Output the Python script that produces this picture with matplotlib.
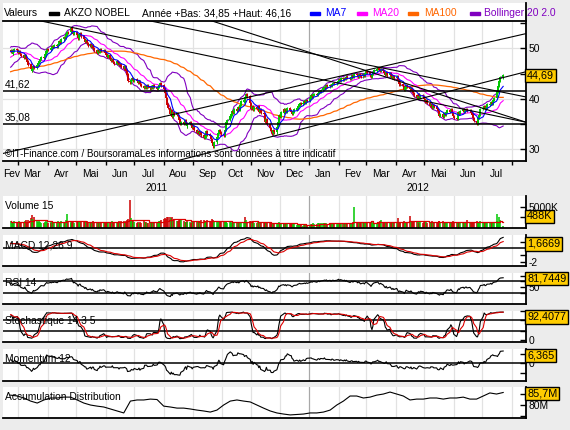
import numpy as np
import pandas as pd
import matplotlib
matplotlib.use('Agg')
import matplotlib.pyplot as plt
import matplotlib.dates as mdates
from matplotlib.patches import Rectangle

plt.rcParams['font.family'] = ['Liberation Sans', 'DejaVu Sans']
plt.rcParams['font.size'] = 7.4

# ---------------- data ----------------
# daily closes before the visible window (warm-up of MA100 / MACD), 27 Sep 2010 -> 18 Feb 2011
close_before = [
    [42.1, 42.4, 41.9, 42.3, 42.7], [42.5, 42.9, 43.2, 42.8, 43.1], [43.4, 43.0, 43.3, 43.7, 43.5],
    [43.2, 42.8, 43.1, 43.4, 43.0], [43.3, 42.9, 42.6, 43.0, 43.3], [43.6, 43.9, 44.3, 44.6, 44.3],
    [44.0, 43.7, 44.1, 43.5, 43.2], [42.9, 42.5, 42.8, 43.2, 43.5], [43.3, 42.9, 43.2, 42.7, 43.0],
    [42.6, 43.1, 43.7, 44.3, 44.6], [45.6, 45.2, 45.5, 45.9, 45.7], [46.0, 45.8, 46.3, 46.1, 46.4],
    [46.6, 46.3, 46.5, 46.2, 46.4], [46.3, 46.6, 46.2, 46.5, 46.7], [47.0, 46.6, 46.2, 45.9, 46.1],
    [45.7, 46.2, 46.8, 46.5, 47.0], [47.3, 46.9, 46.5, 46.0, 46.4], [46.7, 47.0, 46.6, 47.2, 46.8],
    [47.1, 47.6, 47.9, 47.5, 48.0], [48.3, 48.7, 48.4, 48.9, 49.2], [49.0, 49.4, 49.7, 49.3, 49.6],
]
# visible daily closes, one row per week, from Monday 21 Feb 2011
close_2011 = [
    [49.3, 49.7, 49.0, 49.5, 49.8], [49.6, 49.1, 49.4, 48.9, 48.6], [48.2, 48.7, 47.9, 47.4, 46.8],
    [46.0, 45.6, 45.9, 46.5, 46.2], [46.7, 47.1, 47.5, 47.9, 48.3], [48.2, 48.8, 49.4, 49.9, 49.7],
    [50.1, 50.0, 50.4, 50.3, 50.6], [50.4, 50.9, 51.4, 51.2, 51.8], [52.2, 52.1, 52.8, 53.3, 53.2],
    [53.6, 54.0, 53.5, 52.9, 53.2], [52.6, 52.0, 52.8, 53.0, 52.4], [51.9, 51.3, 51.7, 51.0, 50.6],
    [50.9, 50.3, 50.6, 50.0, 49.6], [49.2, 49.6, 49.3, 49.8, 49.5], [49.7, 49.2, 48.8, 48.3, 48.6],
    [48.0, 47.6, 47.9, 47.3, 47.0], [47.5, 47.2, 46.7, 46.9, 46.4], [46.0, 46.5, 45.6, 44.8, 43.6],
    [43.3, 43.8, 44.1, 43.7, 44.0], [43.6, 43.2, 43.5, 42.9, 42.6], [42.2, 42.6, 42.3, 42.8, 42.4],
    [42.1, 42.5, 42.2, 42.7, 42.4], [42.0, 42.4, 42.8, 43.1, 42.7], [42.0, 41.2, 40.1, 38.9, 38.2],
    [37.0, 37.8, 36.4, 37.3, 36.9], [37.2, 36.6, 35.9, 35.0, 35.4], [35.1, 35.7, 35.2, 34.6, 35.0],
    [35.3, 34.8, 34.3, 34.5, 33.9], [33.3, 33.7, 33.1, 33.5, 32.8], [32.3, 32.6, 33.2, 33.6, 33.0],
    [32.6, 32.0, 31.2, 30.6, 31.4], [32.5, 33.3, 33.9, 33.4, 33.0], [32.8, 33.9, 34.6, 35.3, 35.8],
    [36.5, 36.9, 37.6, 37.2, 38.0], [37.6, 38.4, 37.9, 38.8, 39.5], [39.8, 39.3, 40.4, 40.9, 40.5],
    [39.2, 38.0, 38.6, 37.8, 38.4], [38.0, 38.6, 37.5, 37.9, 37.2], [37.0, 36.2, 35.5, 35.9, 35.0],
    [34.2, 33.6, 33.2, 33.8, 33.4], [34.5, 35.4, 36.8, 36.5, 37.3], [37.9, 37.5, 38.0, 37.4, 38.1],
    [37.8, 37.4, 37.0, 37.5, 37.9], [38.1, 38.6, 38.9, 39.2, 39.0], [39.2, 39.5, 39.3, 39.8, 39.6],
]
close_2012 = [
    [40.2, 40.7, 40.5, 40.9, 41.0], [40.8, 41.2, 41.6, 41.4, 41.8], [42.1, 42.4, 42.3, 42.7, 42.5],
    [42.8, 42.6, 43.0, 43.2, 43.1], [43.3, 43.6, 43.9, 43.7, 44.1], [43.9, 44.2, 44.0, 44.4, 44.2],
    [44.0, 44.3, 44.6, 44.4, 44.8], [44.7, 44.5, 44.9, 44.7, 44.5], [44.8, 44.6, 45.1, 45.4, 45.2],
    [44.7, 44.4, 44.9, 45.3, 45.6], [45.9, 46.1, 45.8, 45.6, 45.9], [45.5, 45.1, 44.8, 45.2, 44.7],
    [45.0, 44.6, 44.2, 44.5, 44.1], [44.4, 43.8, 42.9, 43.2, 43.0], [42.6, 41.8, 42.3, 42.8, 42.4],
    [41.9, 42.2, 41.5, 41.1, 40.7], [40.2, 40.6, 40.9, 40.4, 40.8], [40.5, 40.0, 39.4, 39.8, 39.2],
    [38.6, 38.9, 38.3, 38.7, 38.5], [38.0, 37.6, 37.1, 36.7, 37.0], [36.5, 37.2, 36.8, 37.4, 37.8],
    [37.5, 37.9, 37.2, 36.6, 36.2], [36.0, 36.7, 37.3, 37.0, 37.6], [37.9, 37.4, 37.8, 38.0, 37.6],
    [37.8, 37.3, 36.9, 36.2, 35.6], [35.1, 35.4, 36.2, 36.8, 38.0], [38.2, 38.6, 38.1, 38.33, 38.9],
    [39.0, 39.4, 39.1, 39.8, 40.2], [40.6, 41.5, 42.6, 43.6, 44.3], [44.69],
]
# daily volume in millions of shares, same weeks
volume_2011 = [
    [1.6, 1.4, 1.5, 1.3, 1.7], [1.5, 1.4, 1.6, 1.3, 1.5], [1.4, 1.6, 1.8, 1.5, 2.0], [2.4, 3.1, 2.1, 1.8, 2.6],
    [1.6, 1.4, 1.7, 1.5, 1.3], [1.2, 1.5, 1.6, 1.4, 1.3], [1.4, 1.2, 1.5, 1.3, 1.4], [1.3, 1.6, 1.4, 1.5, 1.7],
    [1.5, 1.4, 1.8, 3.3, 1.6], [1.2, 1.5, 1.4, 1.6, 1.3], [1.7, 1.5, 1.4, 1.6, 1.5], [1.4, 1.6, 1.5, 1.7, 1.3],
    [1.5, 1.4, 1.3, 1.6, 1.4], [1.3, 1.2, 1.4, 1.3, 1.2], [1.1, 1.4, 1.5, 1.3, 1.4], [1.5, 1.4, 1.6, 1.3, 1.5],
    [1.4, 1.3, 1.6, 1.5, 1.7], [1.6, 1.4, 1.7, 1.9, 2.2], [6.7, 2.3, 1.8, 1.6, 1.5], [1.3, 1.4, 1.2, 1.5, 1.3],
    [1.6, 1.5, 1.4, 1.3, 1.2], [1.4, 1.3, 1.5, 1.4, 1.2], [1.3, 1.5, 1.7, 1.6, 1.9], [2.1, 2.4, 2.2, 2.6, 2.5],
    [2.7, 2.3, 2.5, 2.0, 1.9], [1.7, 1.6, 1.8, 2.2, 1.9], [1.6, 1.5, 1.4, 1.6, 1.5], [1.4, 1.3, 1.5, 1.4, 1.6],
    [1.7, 1.5, 1.4, 1.6, 1.8], [1.9, 1.7, 1.6, 1.5, 2.0], [1.5, 1.6, 2.1, 1.8, 1.7], [1.6, 1.5, 1.7, 1.4, 1.5],
    [1.6, 1.7, 1.5, 1.4, 1.3], [1.4, 1.5, 1.3, 1.4, 1.2], [1.3, 1.4, 1.5, 1.3, 1.4], [1.5, 2.6, 1.6, 1.8, 1.4],
    [1.6, 1.7, 1.5, 1.4, 1.3], [1.3, 1.4, 1.2, 1.3, 1.2], [1.2, 1.3, 1.4, 1.2, 1.3], [1.1, 1.2, 1.0, 0.9, 1.0],
    [1.1, 1.2, 1.4, 1.2, 1.1], [1.0, 1.1, 1.0, 1.2, 1.0], [0.9, 1.0, 1.1, 0.9, 1.2], [0.8, 0.9, 0.8, 0.7, 0.6],
    [0.5, 0.6, 0.7, 0.6, 0.5],
]
volume_2012 = [
    [0.8, 0.9, 1.0, 1.1, 0.9], [1.0, 1.1, 1.2, 1.0, 1.1], [1.2, 1.3, 1.1, 1.2, 1.0], [1.1, 1.0, 1.2, 1.1, 1.0],
    [1.1, 1.2, 1.3, 1.1, 1.2], [1.2, 1.1, 1.3, 1.2, 1.1], [1.3, 1.2, 1.1, 1.4, 5.1], [1.4, 1.2, 1.3, 1.1, 1.2],
    [1.3, 1.4, 1.5, 1.2, 1.3], [1.4, 1.3, 1.2, 1.4, 1.3], [1.3, 1.5, 1.4, 1.6, 2.0], [1.4, 1.3, 1.5, 1.4, 1.2],
    [1.3, 1.4, 1.2, 1.3, 1.5], [1.4, 2.4, 1.5, 1.3, 1.2], [1.5, 1.6, 1.4, 1.3, 1.5], [2.9, 1.7, 1.5, 1.4, 1.6],
    [1.7, 1.5, 1.4, 1.3, 1.5], [1.3, 1.6, 1.5, 1.4, 1.3], [1.5, 1.4, 1.6, 1.3, 1.4], [1.5, 1.4, 1.6, 1.7, 1.5],
    [1.6, 1.4, 1.3, 1.2, 1.3], [1.2, 1.4, 1.5, 1.6, 1.4], [1.3, 1.5, 1.4, 1.3, 1.2], [1.4, 1.3, 1.2, 1.5, 1.8],
    [1.3, 1.2, 1.4, 1.5, 1.3], [1.6, 1.4, 1.3, 1.5, 1.7], [1.3, 1.2, 1.1, 1.3, 1.2], [1.1, 1.3, 1.2, 1.4, 1.3],
    [3.3, 1.6, 1.5, 2.6, 1.9], [0.49],
]
# accumulation / distribution (millions), read once per week (Mondays)
ad_weekly = [
    84.5, 84.1, 83.2, 81.8, 80.9, 82.3, 83.2, 83.2, 83.6, 83.6, 82.3, 80.9, 80.0, 79.5, 79.1,
    78.2, 77.3, 76.4, 81.8, 82.3, 82.3, 82.7, 82.5, 79.5, 79.1, 78.6, 78.6, 78.2, 77.7, 77.3,
    76.8, 77.7, 80.0, 81.8, 82.3, 81.8, 81.4, 80.0, 78.6, 77.3, 76.4, 75.9, 75.5, 75.7, 75.9,
    76.4, 76.4, 76.8, 77.7, 80.0, 81.8, 84.1, 84.1, 83.2, 83.6, 84.5, 85.0, 85.9, 85.0, 84.1,
    82.3, 82.7, 82.7, 83.2, 83.2, 82.7, 83.2, 83.2, 83.6, 82.7, 82.7, 84.1, 85.5, 85.0, 85.7,
]
levels = [41.62, 35.08]
level_labels = ['41,62', '35,08']
# trend lines, two anchor points each (date, price)
trend_lines = [
    (('2011-03-21', 55.6), ('2012-08-16', 35.4)),
    (('2011-07-14', 55.6), ('2012-08-16', 40.4)),
    (('2012-03-15', 44.75), ('2012-08-16', 35.4)),
    (('2012-03-15', 46.3), ('2012-08-15', 52.9)),
    (('2011-08-22', 28.1), ('2012-08-15', 45.35)),
]
month_names = ['Fev', 'Mar', 'Avr', 'Mai', 'Jun', 'Jul', 'Aou', 'Sep', 'Oct', 'Nov', 'Dec',
               'Jan', 'Fev', 'Mar', 'Avr', 'Mai', 'Jun', 'Jul']
last_values = ['44,69', '488K', '1,6669', '81,7449', '92,4077', '6,365', '85,7M']

# ---------------- preparation ----------------
flat = lambda rows: [v for r in rows for v in r]
c_pre = flat(close_before)
c_vis = flat(close_2011) + flat(close_2012)
vol = np.array(flat(volume_2011) + flat(volume_2012))
n_pre = len(c_pre)

dates = pd.bdate_range('2011-02-21', periods=len(c_vis))
x = mdates.date2num(dates)

c = pd.Series(c_pre + c_vis)
o = c.shift(1).fillna(c.iloc[0])
hi = np.maximum(o, c) + 0.25
lo = np.minimum(o, c) - 0.25

ma7 = c.rolling(7).mean()
ma20 = c.rolling(20).mean()
ma100 = c.rolling(100).mean()
sd20 = c.rolling(20).std(ddof=0)
bb_up, bb_lo = ma20 + 2 * sd20, ma20 - 2 * sd20
macd = c.ewm(span=12, adjust=False).mean() - c.ewm(span=26, adjust=False).mean()
macd_sig = macd.ewm(span=9, adjust=False).mean()
dlt = c.diff()
gain = dlt.clip(lower=0).ewm(alpha=1 / 14, adjust=False).mean()
loss = (-dlt.clip(upper=0)).ewm(alpha=1 / 14, adjust=False).mean()
rsi = 100 - 100 / (1 + gain / loss)
ll, hh = lo.rolling(14).min(), hi.rolling(14).max()
stoch_k = (100 * (c - ll) / (hh - ll)).rolling(3).mean()
stoch_d = stoch_k.rolling(5).mean()
mom = c - c.shift(12)

V = lambda s: np.asarray(s)[n_pre:]
ov, cv, hv, lv = V(o), V(c), V(hi), V(lo)
up = cv >= ov
GREEN, RED = '#00c800', '#cc0000'
col = np.where(up, GREEN, RED)

vol_ma15 = pd.Series(vol).rolling(15, min_periods=1).mean()
vcol = np.where(np.r_[True, np.diff(cv) >= 0], GREEN, RED)

# ---------------- figure ----------------
W, H = 570, 430


def box(x0, y0, x1, y1):
    return [x0 / W, 1 - y1 / H, (x1 - x0) / W, (y1 - y0) / H]


fig = plt.figure(figsize=(5.7, 4.3), dpi=100)
fig.patch.set_facecolor('#ececec')

xl = mdates.date2num(pd.Timestamp('2011-02-13'))
xr = mdates.date2num(pd.Timestamp('2012-08-16'))
grid_months = pd.date_range('2011-03-01', '2012-08-01', freq='MS')
jan12 = pd.Timestamp('2012-01-01')


def style(a):
    a.set_facecolor('white')
    for s in ('top', 'left'):
        a.spines[s].set_visible(False)
    for s in ('right', 'bottom'):
        a.spines[s].set_linewidth(1.3)
    a.yaxis.tick_right()
    a.tick_params(axis='y', direction='in', length=4, width=1, pad=2, labelsize=7.4)
    a.set_xlim(xl, xr)
    for m in grid_months:
        a.axvline(mdates.date2num(m), color='#a8a8a8' if m == jan12 else '#e2e2e2', lw=0.9, zorder=0)


def value_box(a, yfrac, text, trans=None):
    a.text(1.002, yfrac, text, transform=trans or a.transAxes, ha='left', va='center', fontsize=7.8,
           bbox=dict(boxstyle='square,pad=0.15', fc='#ffcc00', ec='black', lw=1), zorder=10, clip_on=False)


# header
hax = fig.add_axes(box(3, 3, 526, 20.5))
hax.set_facecolor('white')
for s in ('top', 'left', 'bottom'):
    hax.spines[s].set_visible(False)
hax.spines['right'].set_linewidth(1.3)
hax.set_xticks([])
hax.set_yticks([])
hax.set_xlim(3, 526)
hax.set_ylim(20.5, 3)
header = [(4, 'Valeurs', 'black', None), (64, 'AKZO NOBEL', 'black', 49),
          (142, 'Année +Bas: 34,85 +Haut: 46,16', 'black', None),
          (325, 'MA7', '#0000ff', 310), (372, 'MA20', '#ff00ff', 357),
          (424, 'MA100', '#ff6600', 408), (484, 'Bollinger 20 2.0', '#8000c0', 470)]
for tx, txt, color, rx in header:
    hax.text(tx, 13.2, txt, color=color, va='center', ha='left', fontsize=7.4, clip_on=False)
    if rx is not None:
        hax.add_patch(Rectangle((rx, 12.3), 9.5, 3, color=color))

# main price chart
ax = fig.add_axes(box(3, 20.5, 526, 161))
style(ax)
ax.spines['top'].set_visible(True)
ax.spines['top'].set_linewidth(1.3)
ax.set_ylim(27.72, 55.54)
ax.set_yticks([30, 35, 40, 45, 50, 55])
ax.set_yticklabels(['30', '', '40', '', '50', ''])
for v in (30, 40, 50):
    ax.axhline(v, color='#e2e2e2', lw=0.9, zorder=0)

ax.plot(x, V(bb_up), color='#8000c0', lw=0.8, zorder=2)
ax.plot(x, V(bb_lo), color='#8000c0', lw=0.8, zorder=2)
ax.plot(x, V(ma100), color='#ff6600', lw=0.9, zorder=2)
ax.plot(x, V(ma20), color='#ff00ff', lw=0.8, zorder=2)
ax.vlines(x, lv, hv, colors=col, lw=0.7, zorder=3)
ax.vlines(x, np.minimum(ov, cv), np.maximum(ov, cv) + 0.05, colors=col, lw=1.4, zorder=3)
ax.plot(x, V(ma7), color='#0000ff', lw=0.8, zorder=4)
for lev, lab in zip(levels, level_labels):
    ax.axhline(lev, color='black', lw=1.1, zorder=5)
    ax.text(xl + 2, lev + 0.35, lab, va='bottom', ha='left', fontsize=7.4, zorder=6)
for p1, p2 in trend_lines:
    ax.axline((mdates.date2num(pd.Timestamp(p1[0])), p1[1]),
              (mdates.date2num(pd.Timestamp(p2[0])), p2[1]), color='black', lw=0.8, zorder=5)
ax.text(0.004, 0.05, '©IT-Finance.com / BoursoramaLes informations sont données à titre indicatif',
        transform=ax.transAxes, fontsize=7.0, va='center', ha='left', zorder=7)
value_box(ax, c_vis[-1], last_values[0], trans=ax.get_yaxis_transform())

# month axis
ax.set_xticks(mdates.date2num(grid_months))
ax.set_xticklabels([])
ax.tick_params(axis='x', which='major', direction='out', length=3, width=1)
mid = [m + pd.Timedelta(days=15) for m in pd.date_range('2011-02-01', '2012-07-01', freq='MS')]
mid[0] = pd.Timestamp('2011-02-22')
ax.set_xticks(mdates.date2num(mid), minor=True)
ax.set_xticklabels(month_names, minor=True)
ax.tick_params(axis='x', which='minor', length=0, pad=5.5, labelsize=7.4)
jn = mdates.date2num(jan12)
for yr, xc in (('2011', (xl + jn) / 2), ('2012', (jn + xr) / 2)):
    ax.text(xc, -0.19, yr, transform=ax.get_xaxis_transform(), ha='center', va='center', fontsize=7.4)


# sub panels
def panel(y0, y1, label, ylim, ticks, ticklabels, box_frac, box_text):
    a = fig.add_axes(box(3, y0, 526, y1))
    style(a)
    a.tick_params(axis='x', length=0, labelbottom=False)
    a.set_ylim(*ylim)
    a.set_yticks(ticks)
    a.set_yticklabels(ticklabels)
    a.text(0.004, 1 - 10.5 / (y1 - y0), label, transform=a.transAxes, va='center', ha='left',
           fontsize=7.4, zorder=7)
    value_box(a, box_frac, box_text)
    return a


av = panel(196, 228, 'Volume 15', (0, 7.6), [2.5, 5.0], ['', '5000K'], 0.36, last_values[1])
av.vlines(x, 0, vol, colors=vcol, lw=1.1, zorder=2)
av.plot(x, vol_ma15, color='#dd0000', lw=0.9, drawstyle='steps-mid', zorder=3)

am = panel(235, 266, 'MACD 12,26 9', (-2.64, 2.0), [1, -1, -2], ['', '', '-2'], 0.71, last_values[2])
am.axhline(0, color='black', lw=1.1, zorder=1)
am.plot(x, V(macd), color='black', lw=0.8, zorder=3)
am.plot(x, V(macd_sig), color='#dd0000', lw=0.8, zorder=3)

ar = panel(273, 304, 'RSI 14', (-7, 99), [90, 70, 50, 30], ['', '', '50', ''], 0.82, last_values[3])
for v in (70, 30):
    ar.axhline(v, color='black', lw=1.1, zorder=1)
ar.plot(x, V(rsi), color='black', lw=0.8, zorder=3)

ast = panel(311, 342, 'Stochastique 14 3 5', (-7, 99), [100, 70, 30, 0], ['', '', '', '0'], 0.81,
            last_values[4])
for v in (70, 30):
    ast.axhline(v, color='black', lw=1.1, zorder=1)
ast.plot(x, V(stoch_k), color='black', lw=0.8, zorder=3)
ast.plot(x, V(stoch_d), color='#dd0000', lw=0.8, zorder=3)

amo = panel(349, 381, 'Momentum 12', (-9.2, 7.4), [5, 0, -5], ['', '0', ''], 0.80, last_values[5])
amo.axhline(0, color='black', lw=1.1, zorder=1)
amo.plot(x, V(mom), color='black', lw=0.8, zorder=3)

aad = panel(387, 418, 'Accumulation Distribution', (74.1, 88.2), [75, 80, 85], ['', '80M', ''], 0.79,
            last_values[6])
aad.plot(x[::5], ad_weekly, color='black', lw=0.8, zorder=3)

fig.savefig('out.png', dpi=100, facecolor=fig.get_facecolor())
